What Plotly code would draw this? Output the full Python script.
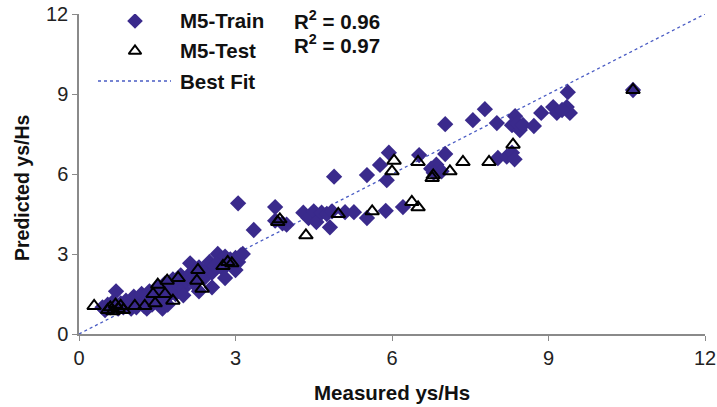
import plotly.graph_objects as go

# ---------------- data ----------------
train_x = [0.45, 0.5, 0.55, 0.6, 0.65, 0.71, 0.75, 0.8, 0.85, 0.9, 0.95, 1.0, 1.05, 1.1, 1.15,
           1.2, 1.25, 1.3, 1.35, 1.4, 1.45, 1.5, 1.55, 1.6, 1.65, 1.7, 1.75, 1.8, 1.85, 1.9,
           1.95, 2.0, 2.05, 2.13, 2.15, 2.2, 2.25, 2.3, 2.4, 2.45, 2.5, 2.55, 2.6, 2.66, 2.7,
           2.75, 2.8, 2.84, 2.9, 2.95, 3.0, 3.05, 3.1, 3.14, 1.0, 1.3, 1.6, 1.7, 2.0, 2.3,
           2.55, 2.8, 3.0,
           3.05, 3.35, 3.76, 3.76, 3.9, 3.98, 4.3, 4.4, 4.5, 4.55, 4.65, 4.75, 4.85, 4.81,
           4.89, 5.1, 5.27, 5.52, 5.52, 5.77, 5.88, 5.9, 5.94, 6.21, 6.52, 6.75, 6.85, 6.95,
           6.8, 7.02, 7.02, 7.55, 7.78, 8.01, 8.03, 8.2, 8.3, 8.35, 8.36, 8.3, 8.45, 8.4,
           8.51, 8.72, 8.86, 9.09, 9.35, 9.16, 9.41, 9.26, 9.37, 10.62]
train_y = [1.0, 0.9, 1.1, 1.0, 1.2, 1.6, 0.95, 1.15, 1.0, 1.25, 1.05, 1.15, 1.4, 1.0, 1.2,
           1.5, 1.05, 1.3, 1.6, 1.1, 1.4, 1.75, 1.2, 1.6, 1.9, 1.4, 1.75, 2.05, 1.5, 1.85,
           2.2, 1.7, 2.0, 2.65, 2.3, 1.9, 2.2, 2.5, 2.1, 2.4, 2.7, 2.3, 2.55, 3.0, 2.75,
           2.45, 2.9, 2.6, 2.8, 2.55, 2.85, 2.7, 2.95, 3.0, 0.95, 0.95, 0.95, 1.1, 1.45, 1.6,
           1.75, 2.1, 2.4,
           4.9, 3.9, 4.76, 4.25, 4.15, 4.1, 4.55, 4.35, 4.6, 4.2, 4.55, 4.5, 4.6, 4.0,
           5.9, 4.57, 4.57, 4.35, 5.96, 6.34, 4.62, 5.77, 6.8, 4.76, 6.71, 6.2, 6.35, 6.1,
           6.05, 6.75, 7.87, 8.02, 8.43, 7.91, 6.6, 6.65, 6.8, 6.55, 8.17, 7.83, 7.65, 7.9,
           7.84, 7.8, 8.29, 8.51, 8.51, 8.29, 8.29, 8.4, 9.07, 9.15]

test_x = [0.29, 0.55, 0.6, 0.65, 0.7, 0.75, 0.8, 0.85, 1.07, 1.26, 1.46, 1.42, 1.51, 1.65,
          1.69, 1.8, 1.9, 2.26, 2.28, 2.36, 2.76, 2.93, 2.85,
          3.81, 3.85, 4.35, 4.97, 5.62, 6.38, 6.5, 6.0, 6.04, 6.5, 6.77, 6.79, 7.11, 7.36,
          7.86, 8.32, 10.62]
test_y = [1.05, 0.9, 1.0, 0.85, 1.1, 0.95, 1.05, 0.9, 1.05, 1.05, 1.15, 1.5, 1.85, 1.5,
          2.0, 1.25, 2.1, 2.0, 2.4, 1.7, 2.55, 2.65, 2.7,
          4.2, 4.3, 3.7, 4.5, 4.6, 4.95, 4.75, 6.1, 6.5, 6.45, 5.85, 5.95, 6.1, 6.45,
          6.45, 7.1, 9.15]

fit_x = [0, 12]
fit_y = [0, 12]

axis_ticks = [0, 3, 6, 9, 12]
legend_labels = ["M5-Train", "M5-Test", "Best Fit"]
r2_labels = ["R<sup>2</sup> = 0.96", "R<sup>2</sup> = 0.97"]

# ---------------- style ----------------
W, H = 717, 407
L, R, T, B = 79, 12, 14, 73
PURPLE = "#3a2a8c"
LINEBLUE = "#4a5cc4"
AXIS = "#8a8a8a"
FONT = "Liberation Sans, Arial, sans-serif"

fig = go.Figure()

fig.add_trace(go.Scatter(x=fit_x, y=fit_y, mode="lines",
                         line=dict(color=LINEBLUE, width=1.3, dash="dot"),
                         hoverinfo="skip", showlegend=False))
fig.add_trace(go.Scatter(x=train_x, y=train_y, mode="markers",
                         marker=dict(symbol="diamond", size=12.5, color=PURPLE,
                                     line=dict(width=0)),
                         showlegend=False, cliponaxis=False))
fig.add_trace(go.Scatter(x=test_x, y=test_y, mode="markers",
                         marker=dict(symbol="triangle-up-open", size=12, color="black",
                                     line=dict(width=2, color="black")),
                         showlegend=False, cliponaxis=False))

# legend in pixel coordinates on an overlay axis
fig.add_trace(go.Scatter(x=[135], y=[21], mode="markers", xaxis="x2", yaxis="y2",
                         marker=dict(symbol="diamond", size=12, color=PURPLE),
                         showlegend=False, hoverinfo="skip"))
fig.add_trace(go.Scatter(x=[135], y=[51], mode="markers", xaxis="x2", yaxis="y2",
                         marker=dict(symbol="triangle-up-open", size=11, color="black",
                                     line=dict(width=2, color="black")),
                         showlegend=False, hoverinfo="skip"))
fig.add_trace(go.Scatter(x=[98, 171], y=[81, 81], mode="lines", xaxis="x2", yaxis="y2",
                         line=dict(color=LINEBLUE, width=1.3, dash="dot"),
                         showlegend=False, hoverinfo="skip"))


def px(xp, yp):
    return (xp - L) / (W - L - R), (H - B - yp) / (H - T - B)


annotations = []
for lab, yp in zip(legend_labels, [21, 50, 81]):
    ax, ay = px(178, yp)
    annotations.append(dict(x=ax, y=ay, xref="paper", yref="paper", text="<b>%s</b>" % lab,
                            showarrow=False, xanchor="left", yanchor="middle",
                            font=dict(size=20.5, color="#111", family=FONT)))
for lab, yp in zip(r2_labels, [20, 44]):
    ax, ay = px(292, yp)
    annotations.append(dict(x=ax, y=ay, xref="paper", yref="paper", text="<b>%s</b>" % lab,
                            showarrow=False, xanchor="left", yanchor="middle",
                            font=dict(size=20.5, color="#111", family=FONT)))
ax, ay = px(392, 392)
annotations.append(dict(x=ax, y=ay, xref="paper", yref="paper", text="<b>Measured ys/Hs</b>",
                        showarrow=False, xanchor="center", yanchor="middle",
                        font=dict(size=20.5, color="#111", family=FONT)))
ax, ay = px(22, 188)
annotations.append(dict(x=ax, y=ay, xref="paper", yref="paper", text="<b>Predicted ys/Hs</b>",
                        showarrow=False, xanchor="center", yanchor="middle", textangle=-90,
                        font=dict(size=19.5, color="#111", family=FONT)))

fig.update_layout(
    width=W, height=H, autosize=False,
    margin=dict(l=L, r=R, t=T, b=B, pad=0, autoexpand=False),
    paper_bgcolor="white", plot_bgcolor="white",
    showlegend=False,
    font=dict(family=FONT, color="#222"),
    xaxis=dict(range=[0, 12], tickvals=axis_ticks, ticktext=[str(t) for t in axis_ticks],
               showline=True, linecolor=AXIS, linewidth=1.5, ticks="outside", ticklen=5,
               tickcolor=AXIS, tickwidth=1.2, showgrid=False, zeroline=False,
               automargin=False,
               tickfont=dict(size=20, color="#222", family=FONT)),
    yaxis=dict(range=[0, 12], tickvals=axis_ticks, ticktext=[str(t) for t in axis_ticks],
               showline=True, linecolor=AXIS, linewidth=1.5, ticks="outside", ticklen=5,
               tickcolor=AXIS, tickwidth=1.2, showgrid=False, zeroline=False,
               automargin=False,
               tickfont=dict(size=20, color="#222", family=FONT)),
    xaxis2=dict(range=[L, W - R], domain=[0, 1], overlaying="x", visible=False,
                fixedrange=True, automargin=False),
    yaxis2=dict(range=[H - B, T], domain=[0, 1], overlaying="y", visible=False,
                fixedrange=True, anchor="x2", automargin=False),
    annotations=annotations,
)

fig.write_html("out.html", config={"displayModeBar": False},
               post_script="document.body.style.margin='0px';document.body.style.overflow='hidden';")
